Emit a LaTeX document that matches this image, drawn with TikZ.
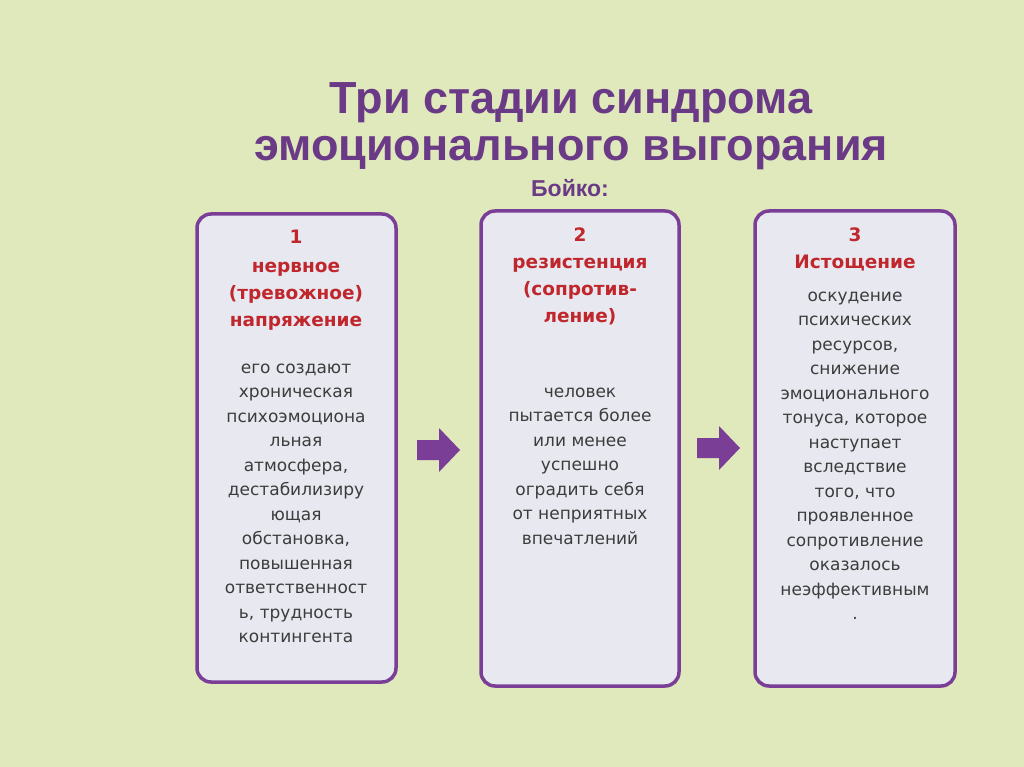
\documentclass[tikz,border=0pt]{standalone}
\usepackage{fontspec}
\setmainfont{Liberation Sans}
\newfontfamily\dv{DejaVu Sans}
\definecolor{bg}{HTML}{DFE9BC}
\definecolor{ttl}{HTML}{6B3A86}
\definecolor{frame}{HTML}{7A3E97}
\definecolor{boxf}{HTML}{E8E9F0}
\definecolor{redt}{HTML}{C0272D}
\definecolor{bodyt}{HTML}{3C3C3C}
\tikzset{
 stage/.style={draw=frame,line width=3.5pt,rounded corners=14pt,fill=boxf},
 head/.style={text=redt,font=\dv\fontsize{18.5}{27}\selectfont\bfseries,align=center,anchor=north},
 body/.style={text=bodyt,font=\dv\fontsize{17}{24.5}\selectfont,align=center,anchor=north},
 ttlst/.style={text=ttl,font=\fontsize{45}{48}\selectfont\bfseries,inner sep=0pt}
}
\newcommand\parr[1]{\fill[frame] ($(#1)+(-21,-10)$) -- ++(22,0) -- ++(0,-12) -- ++(21,22) -- ++(-21,22) -- ++(0,-12) -- ++(-22,0) -- cycle;}
\usetikzlibrary{calc}
\begin{document}
\begin{tikzpicture}[x=1pt,y=-1pt]
\fill[bg] (0,0) rectangle (1024,767);
\useasboundingbox (0,0) rectangle (1024,767);
\node[ttlst] (t1) at (571,103) {Три стадии синдрома};
\node[ttlst] (t2) at (571,153) {эмоционального выгорания};
\node[text=ttl,font=\fontsize{23}{26}\selectfont\bfseries] (t3) at (570,188) {Бойко:};
\draw[stage] (197,214) rectangle (396,682);
\draw[stage] (481,211) rectangle (679,686);
\draw[stage] (755,211) rectangle (955,686);
\node[head] (h1) at (296,226) {1\\[2pt]нервное\\(тревожное)\\напряжение};
\node[body] (b1) at (296,360) {его создают\\хроническая\\психоэмоциона\\льная\\атмосфера,\\дестабилизиру\\ющая\\обстановка,\\повышенная\\ответственност\\ь, трудность\\контингента};
\node[head] (h2) at (580,224) {2\\резистенция\\(сопротив-\\ление)};
\node[body] (b2) at (580,384) {человек\\пытается более\\или менее\\успешно\\оградить себя\\от неприятных\\впечатлений};
\node[head] (h3) at (855,224) {3\\Истощение};
\node[body] (b3) at (855,288) {оскудение\\психических\\ресурсов,\\снижение\\эмоционального\\тонуса, которое\\наступает\\вследствие\\того, что\\проявленное\\сопротивление\\оказалось\\неэффективным\\.};
\coordinate (a1) at (438,450);
\coordinate (a2) at (718,448);
\parr{a1}
\parr{a2}
\end{tikzpicture}
\end{document}
